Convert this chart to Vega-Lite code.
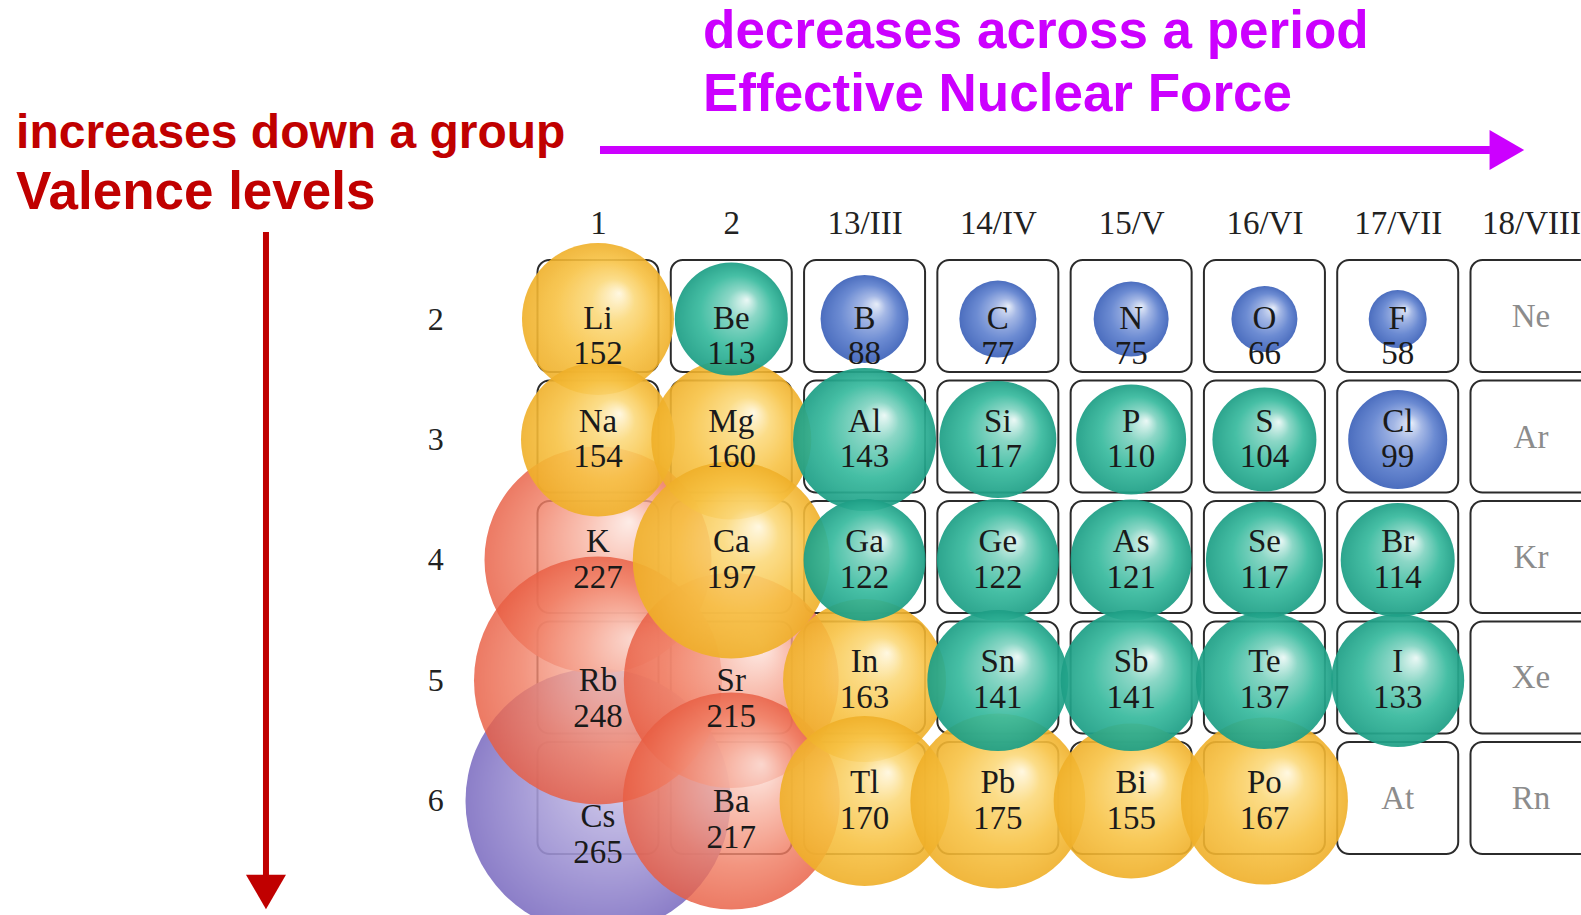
{
  "$schema": "https://vega.github.io/schema/vega-lite/v6.json",
  "autosize": {"type": "none"},
  "width": 1066.3,
  "height": 602.5,
  "padding": {"left": 531.35, "top": 258.75, "right": 0, "bottom": 60},
  "background": "white",
  "config": {"view": {"stroke": null}},
  "datasets": {
    "elements": [
      {"sym": "Li", "group": 1, "period": 2, "r": 152, "cat": "yellow"},
      {"sym": "Be", "group": 2, "period": 2, "r": 113, "cat": "teal"},
      {"sym": "B", "group": 3, "period": 2, "r": 88, "cat": "blue"},
      {"sym": "C", "group": 4, "period": 2, "r": 77, "cat": "blue"},
      {"sym": "N", "group": 5, "period": 2, "r": 75, "cat": "blue"},
      {"sym": "O", "group": 6, "period": 2, "r": 66, "cat": "blue"},
      {"sym": "F", "group": 7, "period": 2, "r": 58, "cat": "blue"},
      {"sym": "Ne", "group": 8, "period": 2, "r": null, "cat": "none"},
      {"sym": "Na", "group": 1, "period": 3, "r": 154, "cat": "yellow"},
      {"sym": "Mg", "group": 2, "period": 3, "r": 160, "cat": "yellow"},
      {"sym": "Al", "group": 3, "period": 3, "r": 143, "cat": "teal"},
      {"sym": "Si", "group": 4, "period": 3, "r": 117, "cat": "teal"},
      {"sym": "P", "group": 5, "period": 3, "r": 110, "cat": "teal"},
      {"sym": "S", "group": 6, "period": 3, "r": 104, "cat": "teal"},
      {"sym": "Cl", "group": 7, "period": 3, "r": 99, "cat": "blue"},
      {"sym": "Ar", "group": 8, "period": 3, "r": null, "cat": "none"},
      {"sym": "K", "group": 1, "period": 4, "r": 227, "cat": "red"},
      {"sym": "Ca", "group": 2, "period": 4, "r": 197, "cat": "yellow"},
      {"sym": "Ga", "group": 3, "period": 4, "r": 122, "cat": "teal"},
      {"sym": "Ge", "group": 4, "period": 4, "r": 122, "cat": "teal"},
      {"sym": "As", "group": 5, "period": 4, "r": 121, "cat": "teal"},
      {"sym": "Se", "group": 6, "period": 4, "r": 117, "cat": "teal"},
      {"sym": "Br", "group": 7, "period": 4, "r": 114, "cat": "teal"},
      {"sym": "Kr", "group": 8, "period": 4, "r": null, "cat": "none"},
      {"sym": "Rb", "group": 1, "period": 5, "r": 248, "cat": "red"},
      {"sym": "Sr", "group": 2, "period": 5, "r": 215, "cat": "red"},
      {"sym": "In", "group": 3, "period": 5, "r": 163, "cat": "yellow"},
      {"sym": "Sn", "group": 4, "period": 5, "r": 141, "cat": "teal"},
      {"sym": "Sb", "group": 5, "period": 5, "r": 141, "cat": "teal"},
      {"sym": "Te", "group": 6, "period": 5, "r": 137, "cat": "teal"},
      {"sym": "I", "group": 7, "period": 5, "r": 133, "cat": "teal"},
      {"sym": "Xe", "group": 8, "period": 5, "r": null, "cat": "none"},
      {"sym": "Cs", "group": 1, "period": 6, "r": 265, "cat": "purple"},
      {"sym": "Ba", "group": 2, "period": 6, "r": 217, "cat": "red"},
      {"sym": "Tl", "group": 3, "period": 6, "r": 170, "cat": "yellow"},
      {"sym": "Pb", "group": 4, "period": 6, "r": 175, "cat": "yellow"},
      {"sym": "Bi", "group": 5, "period": 6, "r": 155, "cat": "yellow"},
      {"sym": "Po", "group": 6, "period": 6, "r": 167, "cat": "yellow"},
      {"sym": "At", "group": 7, "period": 6, "r": null, "cat": "none"},
      {"sym": "Rn", "group": 8, "period": 6, "r": null, "cat": "none"}
    ]
  },
  "encoding": {
    "x": {"field": "group", "type": "quantitative", "scale": {"domain": [0.5, 8.5], "nice": false, "zero": false},
          "axis": {"orient": "top", "title": null, "values": [1, 2, 3, 4, 5, 6, 7, 8], "labelExpr": "['1','2','13/III','14/IV','15/V','16/VI','17/VII','18/VIII'][datum.value-1]", "domain": false, "ticks": false, "tickSize": 0, "grid": false, "labelPadding": 35, "labelBaseline": "middle", "labelFont": "Liberation Serif", "labelFontSize": 33, "labelColor": "#222", "labelFlush": false, "labelOverlap": false, "labelBound": false}},
    "y": {"field": "period", "type": "quantitative", "scale": {"domain": [1.5, 6.5], "nice": false, "zero": false, "reverse": true},
          "axis": {"orient": "left", "title": null, "values": [2, 3, 4, 5, 6], "format": "d", "domain": false, "ticks": false, "tickSize": 0, "grid": false, "labelPadding": 96, "labelAlign": "center", "labelBaseline": "middle", "labelFont": "Liberation Serif", "labelFontSize": 32, "labelColor": "#222", "labelFlush": false, "labelOverlap": false, "labelBound": false}}
  },
  "layer": [
    {
      "data": {"name": "elements"},
      "mark": {"type": "rect", "width": 121, "height": 112, "cornerRadius": 12, "fill": "white", "stroke": "#2b2b2b", "strokeWidth": 2, "yOffset": -3}
    },
    {
      "data": {"name": "elements"},
      "transform": [{"filter": "datum.cat == 'purple'"}],
      "mark": {"type": "circle", "opacity": 0.9, "fill": {"gradient": "radial", "x1": 0.64, "y1": 0.33, "r1": 0, "x2": 0.5, "y2": 0.5, "r2": 0.5, "stops": [{"offset": 0, "color": "#eeecf8"}, {"offset": 0.3, "color": "#bfb7e3"}, {"offset": 0.7, "color": "#9a8ed1"}, {"offset": 1, "color": "#7f70c2"}]}},
      "encoding": {
        "size": {"field": "r", "type": "quantitative", "scale": {"type": "pow", "exponent": 2, "domain": [0, 300], "range": [0, 90000]}, "legend": null},
        "order": [{"field": "period", "type": "quantitative", "sort": "descending"}, {"field": "group", "type": "quantitative", "sort": "ascending"}]
      }
    },
    {
      "data": {"name": "elements"},
      "transform": [{"filter": "datum.cat == 'red'"}],
      "mark": {"type": "circle", "opacity": 0.82, "fill": {"gradient": "radial", "x1": 0.64, "y1": 0.33, "r1": 0, "x2": 0.5, "y2": 0.5, "r2": 0.5, "stops": [{"offset": 0, "color": "#fde8e2"}, {"offset": 0.3, "color": "#f8b6a5"}, {"offset": 0.7, "color": "#f07d63"}, {"offset": 1, "color": "#e85d42"}]}},
      "encoding": {
        "size": {"field": "r", "type": "quantitative", "legend": null},
        "order": [{"field": "period", "type": "quantitative", "sort": "descending"}, {"field": "group", "type": "quantitative", "sort": "ascending"}]
      }
    },
    {
      "data": {"name": "elements"},
      "transform": [{"filter": "datum.cat == 'yellow'"}],
      "mark": {"type": "circle", "opacity": 0.9, "fill": {"gradient": "radial", "x1": 0.64, "y1": 0.33, "r1": 0, "x2": 0.5, "y2": 0.5, "r2": 0.5, "stops": [{"offset": 0, "color": "#fff7de"}, {"offset": 0.28, "color": "#fbd97c"}, {"offset": 0.65, "color": "#f7c244"}, {"offset": 1, "color": "#efaf28"}]}},
      "encoding": {
        "size": {"field": "r", "type": "quantitative", "legend": null},
        "order": [{"field": "period", "type": "quantitative", "sort": "descending"}, {"field": "group", "type": "quantitative", "sort": "ascending"}]
      }
    },
    {
      "data": {"name": "elements"},
      "transform": [{"filter": "datum.cat == 'teal'"}],
      "mark": {"type": "circle", "opacity": 0.93, "fill": {"gradient": "radial", "x1": 0.64, "y1": 0.33, "r1": 0, "x2": 0.5, "y2": 0.5, "r2": 0.5, "stops": [{"offset": 0, "color": "#eaf8f5"}, {"offset": 0.28, "color": "#83d4c2"}, {"offset": 0.65, "color": "#38ba9e"}, {"offset": 1, "color": "#1d9e85"}]}},
      "encoding": {
        "size": {"field": "r", "type": "quantitative", "legend": null},
        "order": [{"field": "period", "type": "quantitative", "sort": "descending"}, {"field": "group", "type": "quantitative", "sort": "ascending"}]
      }
    },
    {
      "data": {"name": "elements"},
      "transform": [{"filter": "datum.cat == 'blue'"}],
      "mark": {"type": "circle", "opacity": 0.95, "fill": {"gradient": "radial", "x1": 0.64, "y1": 0.33, "r1": 0, "x2": 0.5, "y2": 0.5, "r2": 0.5, "stops": [{"offset": 0, "color": "#e6ecf8"}, {"offset": 0.28, "color": "#a0b4e4"}, {"offset": 0.65, "color": "#6485d0"}, {"offset": 1, "color": "#4266bb"}]}},
      "encoding": {
        "size": {"field": "r", "type": "quantitative", "legend": null},
        "order": [{"field": "period", "type": "quantitative", "sort": "descending"}, {"field": "group", "type": "quantitative", "sort": "ascending"}]
      }
    },
    {
      "data": {"name": "elements"},
      "transform": [{"filter": "datum.r != null && datum.period == 2"}],
      "mark": {"type": "text", "font": "Liberation Serif", "fontSize": 33, "color": "#1a1a1a", "baseline": "middle", "dy": 0},
      "encoding": {"text": {"field": "sym", "type": "nominal"}}
    },
    {
      "data": {"name": "elements"},
      "transform": [{"filter": "datum.r != null && datum.period == 2"}],
      "mark": {"type": "text", "font": "Liberation Serif", "fontSize": 33, "color": "#1a1a1a", "baseline": "middle", "dy": 35},
      "encoding": {"text": {"field": "r", "type": "quantitative", "format": "d"}}
    },
    {
      "data": {"name": "elements"},
      "transform": [{"filter": "datum.r != null && datum.period > 2 && !(datum.group <= 2 && datum.period >= 5)"}],
      "mark": {"type": "text", "font": "Liberation Serif", "fontSize": 33, "color": "#1a1a1a", "baseline": "middle", "dy": -18},
      "encoding": {"text": {"field": "sym", "type": "nominal"}}
    },
    {
      "data": {"name": "elements"},
      "transform": [{"filter": "datum.r != null && datum.period > 2 && !(datum.group <= 2 && datum.period >= 5)"}],
      "mark": {"type": "text", "font": "Liberation Serif", "fontSize": 33, "color": "#1a1a1a", "baseline": "middle", "dy": 18},
      "encoding": {"text": {"field": "r", "type": "quantitative", "format": "d"}}
    },
    {
      "data": {"name": "elements"},
      "transform": [{"filter": "datum.group <= 2 && datum.period >= 5 && datum.cat == 'red'"}],
      "mark": {"type": "text", "font": "Liberation Serif", "fontSize": 33, "color": "#1a1a1a", "baseline": "middle", "dy": 1},
      "encoding": {"text": {"field": "sym", "type": "nominal"}}
    },
    {
      "data": {"name": "elements"},
      "transform": [{"filter": "datum.group <= 2 && datum.period >= 5 && datum.cat == 'red'"}],
      "mark": {"type": "text", "font": "Liberation Serif", "fontSize": 33, "color": "#1a1a1a", "baseline": "middle", "dy": 37},
      "encoding": {"text": {"field": "r", "type": "quantitative", "format": "d"}}
    },
    {
      "data": {"name": "elements"},
      "transform": [{"filter": "datum.cat == 'purple'"}],
      "mark": {"type": "text", "font": "Liberation Serif", "fontSize": 33, "color": "#1a1a1a", "baseline": "middle", "dy": 16},
      "encoding": {"text": {"field": "sym", "type": "nominal"}}
    },
    {
      "data": {"name": "elements"},
      "transform": [{"filter": "datum.cat == 'purple'"}],
      "mark": {"type": "text", "font": "Liberation Serif", "fontSize": 33, "color": "#1a1a1a", "baseline": "middle", "dy": 52},
      "encoding": {"text": {"field": "r", "type": "quantitative", "format": "d"}}
    },
    {
      "data": {"name": "elements"},
      "transform": [{"filter": "datum.r == null"}],
      "mark": {"type": "text", "font": "Liberation Serif", "fontSize": 33, "color": "#8c8c8c", "baseline": "middle", "dy": -2},
      "encoding": {"text": {"field": "sym", "type": "nominal"}}
    },
    {
      "data": {"values": [{"group": 1.015, "group2": 7.692, "period": 0.5975}]},
      "mark": {"type": "rule", "color": "#cc00ff", "strokeWidth": 8},
      "encoding": {"x2": {"field": "group2"}}
    },
    {
      "data": {"values": [{"group": 7.819, "period": 0.5975}]},
      "mark": {"type": "point", "shape": "triangle-right", "filled": true, "color": "#cc00ff", "opacity": 1, "size": 1600, "strokeWidth": 0},
      "encoding": {}
    },
    {
      "data": {"values": [{"group": -1.491, "period": 1.278, "period2": 6.656}]},
      "mark": {"type": "rule", "color": "#c00000", "strokeWidth": 6},
      "encoding": {"y2": {"field": "period2"}}
    },
    {
      "data": {"values": [{"group": -1.491, "period": 6.755}]},
      "mark": {"type": "point", "shape": "triangle-down", "filled": true, "color": "#c00000", "opacity": 1, "size": 1600, "strokeWidth": 0},
      "encoding": {}
    },
    {
      "data": {"values": [{"group": 1.788, "period": -0.253, "t": "decreases across a period"}, {"group": 1.788, "period": 0.27, "t": "Effective Nuclear Force"}]},
      "mark": {"type": "text", "font": "Liberation Sans", "fontWeight": "bold", "fontSize": 53, "color": "#cc00ff", "align": "left", "baseline": "alphabetic"},
      "encoding": {"text": {"field": "t", "type": "nominal"}}
    },
    {
      "data": {"values": [{"group": -3.366, "period": 0.581, "t": "increases down a group"}]},
      "mark": {"type": "text", "font": "Liberation Sans", "fontWeight": "bold", "fontSize": 48, "color": "#c00000", "align": "left", "baseline": "alphabetic"},
      "encoding": {"text": {"field": "t", "type": "nominal"}}
    },
    {
      "data": {"values": [{"group": -3.366, "period": 1.087, "t": "Valence levels"}]},
      "mark": {"type": "text", "font": "Liberation Sans", "fontWeight": "bold", "fontSize": 53, "color": "#c00000", "align": "left", "baseline": "alphabetic"},
      "encoding": {"text": {"field": "t", "type": "nominal"}}
    }
  ]
}
